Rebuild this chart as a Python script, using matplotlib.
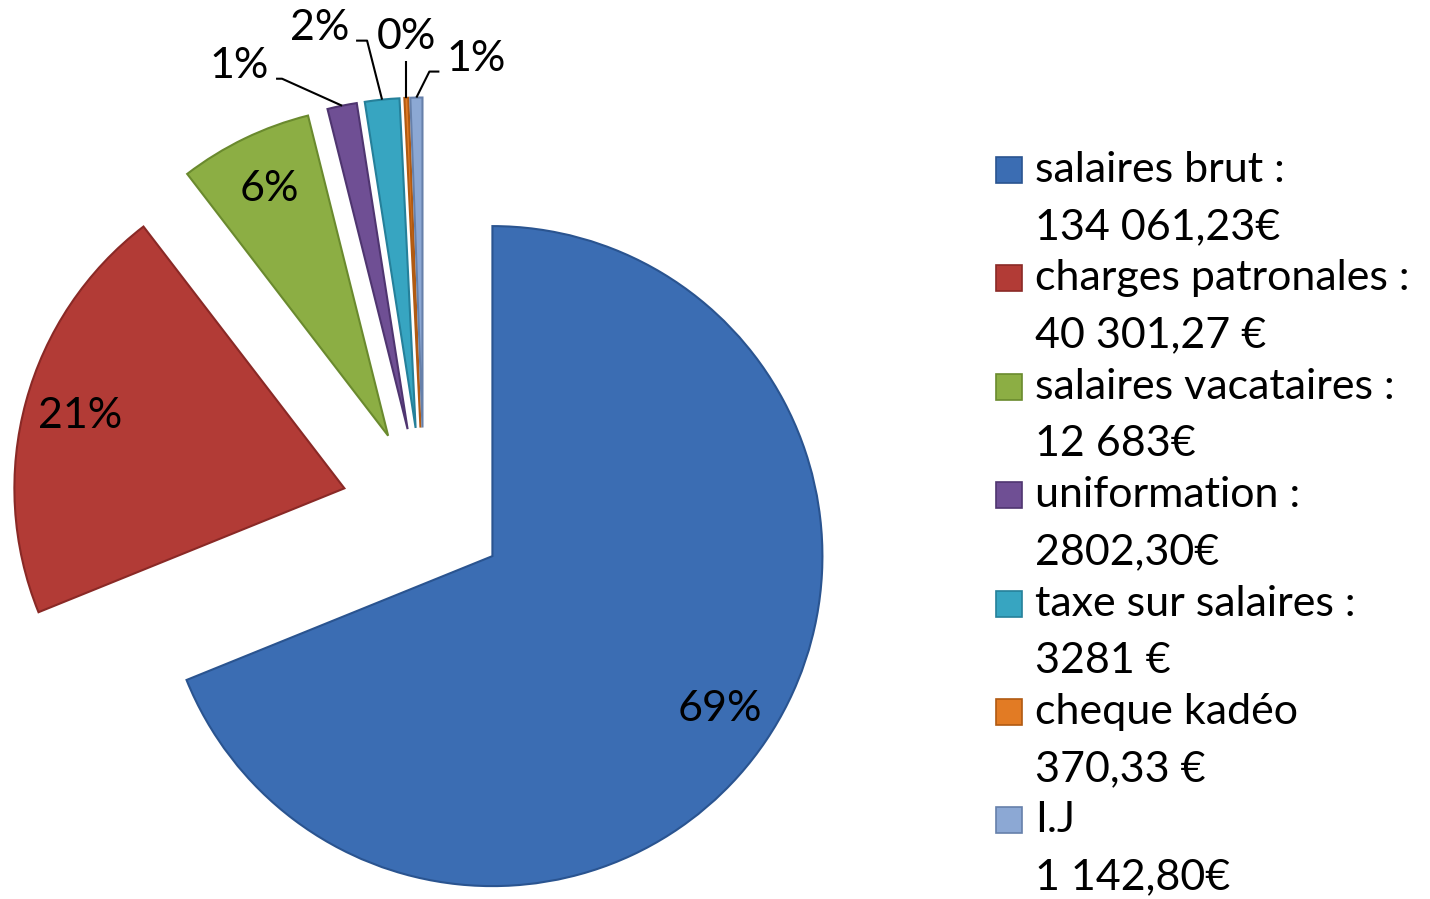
import matplotlib
matplotlib.use("Agg")
import matplotlib.pyplot as plt
import matplotlib.patches as mpatches
import numpy as np

plt.rcParams['font.family'] = ['Lato', 'DejaVu Sans']

# donnees du graphique
categories = ["salaires brut :", "charges patronales :", "salaires vacataires :",
              "uniformation :", "taxe sur salaires :", "cheque kadéo", "I.J"]
amount_labels = ["134 061,23€", "40 301,27 €", "12 683€", "2802,30€",
                 "3281 €", "370,33 €", "1 142,80€"]
values = [134061.23, 40301.27, 12683, 2802.30, 3281, 370.33, 1142.80]
pct_labels = ["69%", "21%", "6%", "1%", "2%", "0%", "1%"]
colors = ["#3b6db3", "#b23b36", "#8cae44", "#6f4f94", "#37a5c1", "#e27b24", "#8ca8d4"]
edge_colors = ["#2a5490", "#8a2926", "#6a8a2e", "#4f3570", "#25809a", "#b05a12", "#6680aa"]

W, H = 1430, 899
fig = plt.figure(figsize=(W / 100, H / 100), dpi=100)
ax = fig.add_axes([0, 0, 1, 1])

# centre du camembert en pixels et rayon
cx, cy, R = 424, 510, 330

explode = [0.25] * len(values)
wedges, _ = ax.pie(values, explode=explode, colors=colors,
                   startangle=90, counterclock=False,
                   radius=1, center=(0, 0),
                   wedgeprops=dict(linewidth=1.5))
for w, ec in zip(wedges, edge_colors):
    w.set_edgecolor(ec)

ax.set_xlim(-cx / R, (W - cx) / R)
ax.set_ylim(-(H - cy) / R, cy / R)
ax.set_aspect('equal')
ax.axis('off')

FS = 31

# etiquettes dans les grandes parts
for i in range(3):
    w = wedges[i]
    ang = np.deg2rad((w.theta1 + w.theta2) / 2)
    p = np.array(w.center) + 0.83 * np.array([np.cos(ang), np.sin(ang)])
    ax.text(p[0], p[1], pct_labels[i], fontsize=FS, ha='center', va='center')

# etiquettes exterieures des petites parts: (coude, fin du trait) en pixels par rapport au bord
leaders = {3: (-60, 27, -6), 4: (-15, 59, -11), 5: (0, 37, 0), 6: (13, 26, 10)}
for i, (kx, ky, hx) in leaders.items():
    w = wedges[i]
    ang = np.deg2rad((w.theta1 + w.theta2) / 2)
    tip = np.array(w.center) + np.array([np.cos(ang), np.sin(ang)])
    knee = tip + np.array([kx, ky]) / R
    end = knee + np.array([hx, 0]) / R
    ax.plot([tip[0], knee[0], end[0]], [tip[1], knee[1], end[1]],
            color='black', lw=1.5, solid_capstyle='butt')
    if hx < 0:
        ax.text(end[0] - 7 / R, end[1] + 13 / R, pct_labels[i], fontsize=FS,
                ha='right', va='center')
    elif hx > 0:
        ax.text(end[0] + 7 / R, end[1] + 13 / R, pct_labels[i], fontsize=FS,
                ha='left', va='center')
    else:
        ax.text(end[0], end[1] + 24 / R, pct_labels[i], fontsize=FS,
                ha='center', va='center')

# legende
for i, (cat, amt) in enumerate(zip(categories, amount_labels)):
    y1 = 170 + 108.4 * i
    y2 = y1 + 57
    fig.patches.append(mpatches.Rectangle((996 / W, 1 - (y1 + 13) / H), 26 / W, 26 / H,
                                          transform=fig.transFigure,
                                          facecolor=colors[i], edgecolor=edge_colors[i],
                                          lw=1.2))
    fig.text(1035 / W, 1 - y1 / H, cat, fontsize=FS, va='center', ha='left')
    fig.text(1035 / W, 1 - y2 / H, amt, fontsize=FS, va='center', ha='left')

fig.savefig("out.png", dpi=100)
